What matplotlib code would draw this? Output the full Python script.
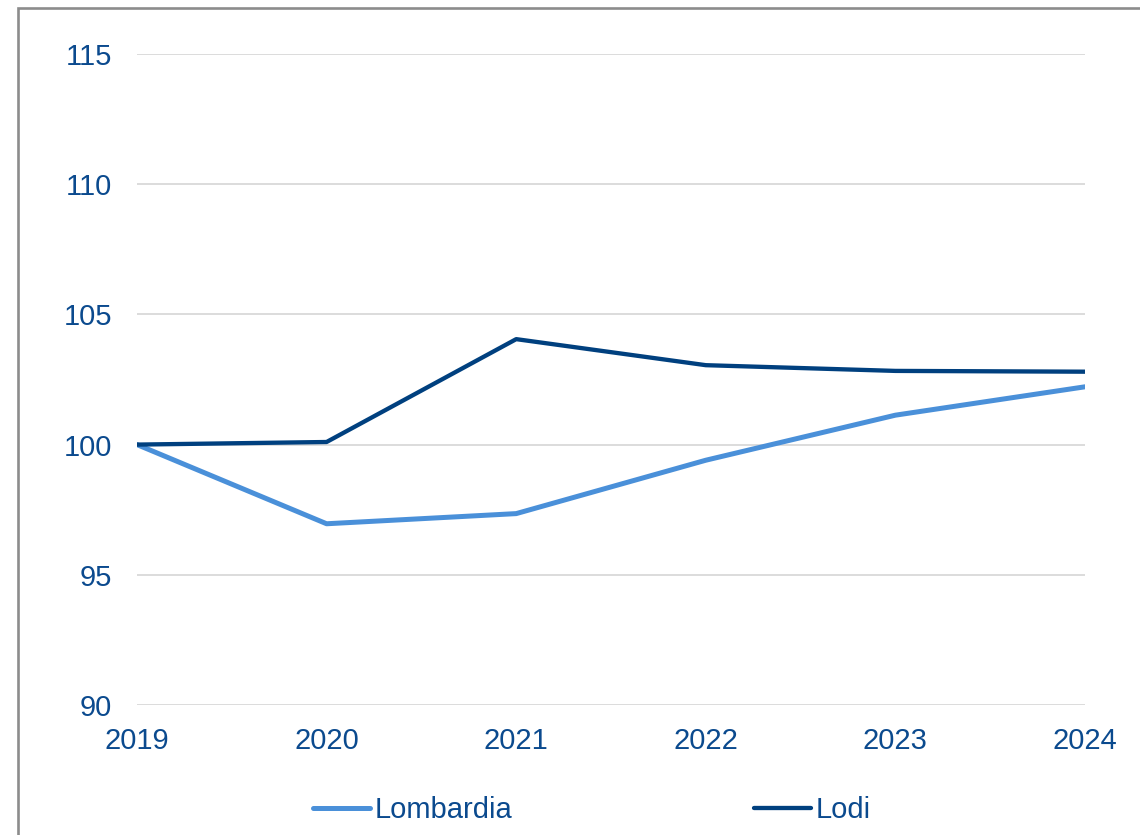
import matplotlib.pyplot as plt
from matplotlib.patches import Rectangle

# Index numbers, 2019 = 100
years = [2019, 2020, 2021, 2022, 2023, 2024]
lombardia = [100.0, 96.96, 97.35, 99.4, 101.13, 102.22]
lodi = [100.0, 100.1, 104.05, 103.05, 102.83, 102.8]
y_ticks = [90, 95, 100, 105, 110, 115]

TEXT_COLOR = '#0B4A8E'
LOMB_COLOR = '#4A90D9'
LODI_COLOR = '#00407F'
GRID_COLOR = '#D9D9D9'

plt.rcParams['font.family'] = ['Liberation Sans', 'DejaVu Sans']

fig = plt.figure(figsize=(11.4, 8.35), dpi=100)
ax = fig.add_axes([137 / 1140, 1 - 705 / 835, (1085 - 137) / 1140, (705 - 54) / 835])

ax.plot(years, lombardia, color=LOMB_COLOR, lw=3.6, solid_capstyle='round',
        solid_joinstyle='round', label='Lombardia', zorder=3)
ax.plot(years, lodi, color=LODI_COLOR, lw=3.1, solid_capstyle='round',
        solid_joinstyle='round', label='Lodi', zorder=4)

ax.set_xlim(years[0], years[-1])
ax.set_ylim(90, 115)
ax.set_xticks(years)
ax.set_xticklabels([str(y) for y in years])
ax.set_yticks(y_ticks)
ax.set_yticklabels([str(v) for v in y_ticks])

ax.grid(axis='y', color=GRID_COLOR, lw=1.3, zorder=0)
ax.grid(axis='x', visible=False)
for s in ax.spines.values():
    s.set_visible(False)
ax.tick_params(axis='both', length=0, labelsize=21, colors=TEXT_COLOR)
ax.tick_params(axis='y', pad=18)
ax.tick_params(axis='x', pad=16)

fig.legend(loc='center', bbox_to_anchor=(592 / 1140, 1 - 810 / 835), ncol=2,
           frameon=False, fontsize=21, labelcolor=TEXT_COLOR,
           handlelength=1.95, handletextpad=0.15, columnspacing=8.3)

# gray frame around the chart, cut off on the right and bottom
fig.patches.append(Rectangle((18.5 / 1140, -0.1), 1.2, 1.1 - 7.7 / 835,
                             transform=fig.transFigure, fill=False,
                             edgecolor='#8C8C8C', lw=1.9))

fig.savefig('out.png', dpi=100, facecolor='white')
